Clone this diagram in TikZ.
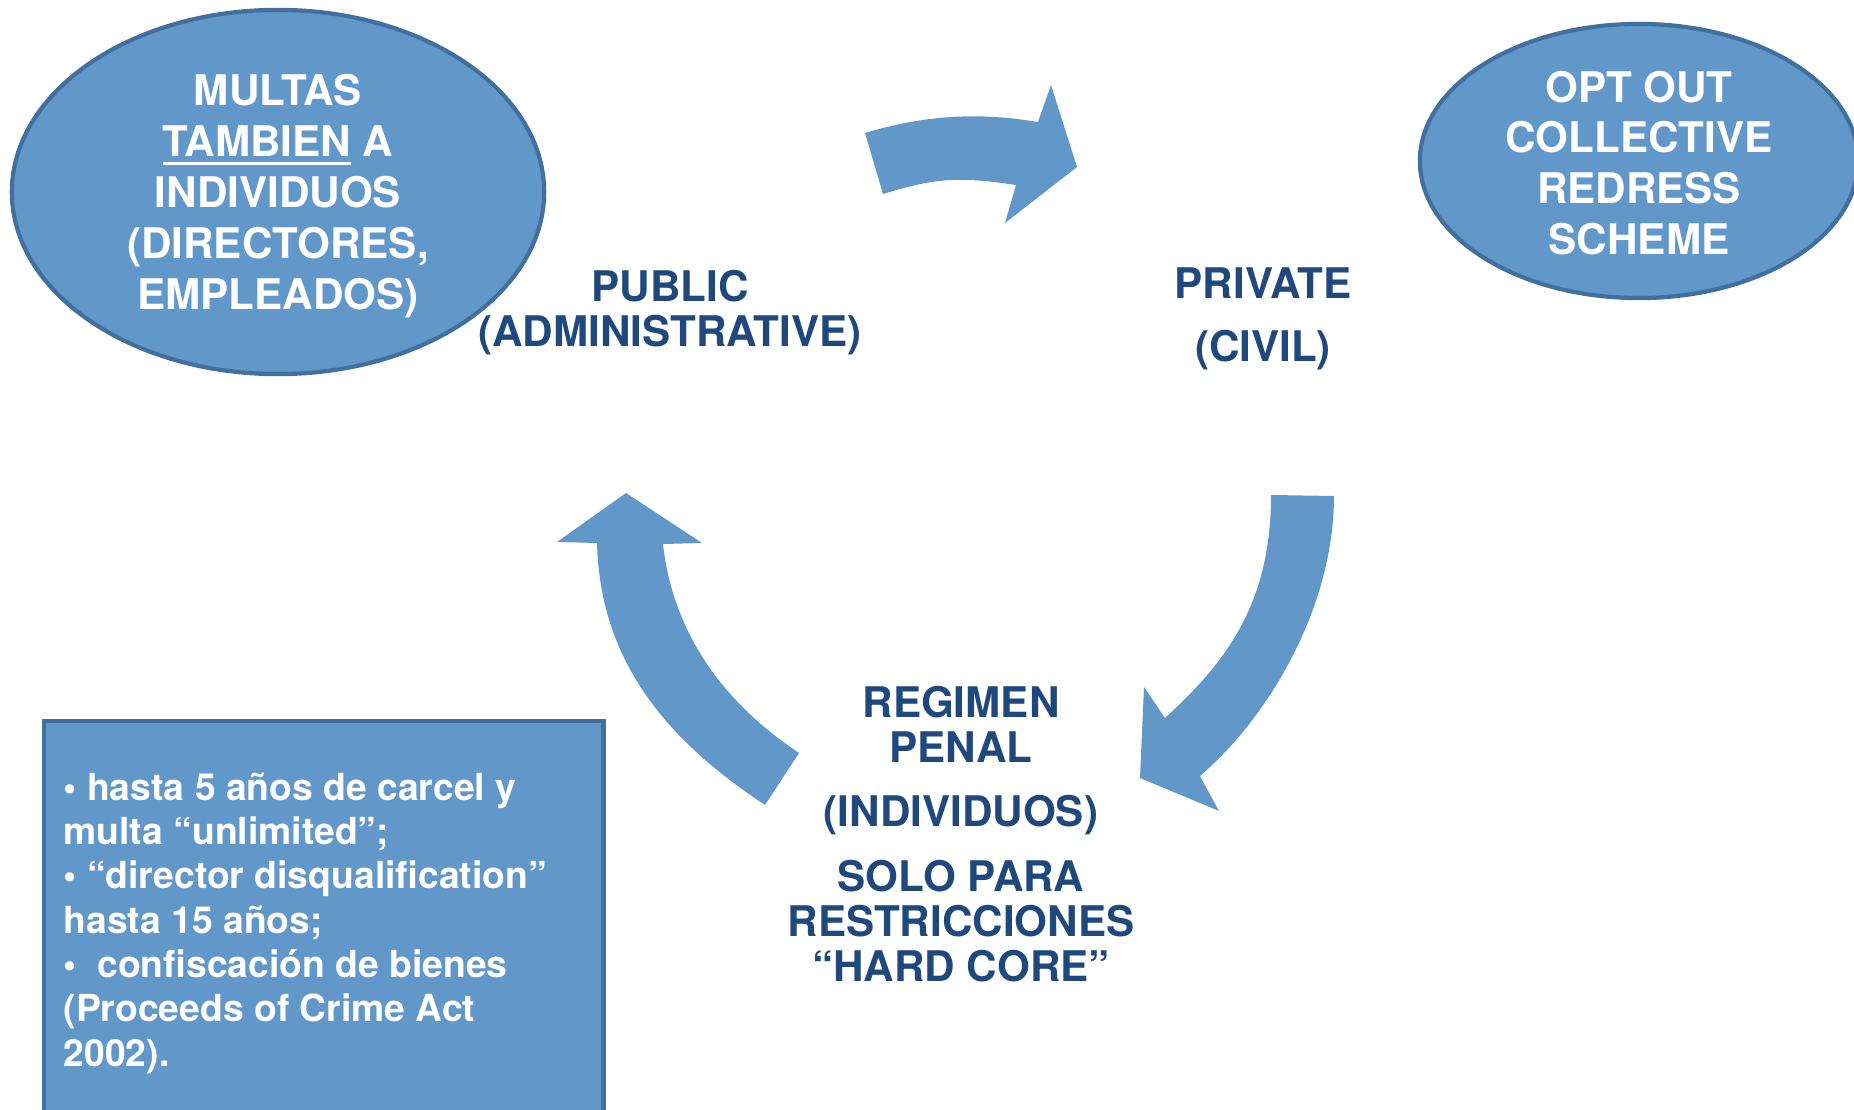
\documentclass[tikz,border=0pt]{standalone}
\usepackage{fontspec}
\setmainfont{TeX Gyre Heros}
\usepackage{xcolor}
\usetikzlibrary{arrows.meta, positioning, calc, shapes}

\definecolor{cycleblue}{HTML}{6297CA}
\definecolor{edgeblue}{HTML}{41709F}
\definecolor{labelblue}{HTML}{1F497D}

% 加粗下划线
\newcommand{\thickul}[1]{\setbox0\hbox{#1}\rlap{\rule[-2.4pt]{\wd0}{0.75pt}}\box0\relax}

\begin{document}
\begin{tikzpicture}[
    x=0.01cm, y=-0.01cm,
    % 基础样式定义
    every node/.style={font=\bfseries\fontsize{12}{12.8}\selectfont, align=center, inner sep=0pt},
    % 椭圆（白字）
    bubble/.style={ellipse, fill=cycleblue, draw=edgeblue, line width=1.2pt, text=white,
        font=\bfseries\fontsize{12}{14.5}\selectfont},
    % 循环中的三个阶段
    stage/.style={text=labelblue},
    % 左下方框
    notebox/.style={rectangle, fill=cycleblue, draw=edgeblue, line width=1.2pt},
    notetext/.style={text=white, align=left, font=\bfseries\fontsize{10.6}{12.6}\selectfont},
    % 弧形箭头
    cyclearrow/.style={fill=cycleblue}
]
\useasboundingbox (0,0) rectangle (1854,1110);

% 椭圆
\node[bubble, minimum width=5.32cm, minimum height=3.64cm] (fines) at (278,192)
    {\rule{0pt}{11pt}MULTAS\\\thickul{TAMBIEN} A\\INDIVIDUOS\\(DIRECTORES,\\EMPLEADOS)};
\node[bubble, minimum width=4.38cm, minimum height=2.74cm] (optout) at (1639,161)
    {\rule{0pt}{10.1pt}OPT OUT\\COLLECTIVE\\REDRESS\\SCHEME};

% 三个阶段
\node[stage] (public) at (670,313) {PUBLIC\\(ADMINISTRATIVE)};
\node[stage] (private) at (1263,319) {PRIVATE\\[5pt](CIVIL)};
\node[stage] (penal) at (961,834)
    {REGIMEN\\PENAL\\[5.5pt](INDIVIDUOS)\\[5.5pt]SOLO PARA\\RESTRICCIONES\\“HARD CORE”};

% 箭头
\fill[cyclearrow] (865,133) .. controls (925,115) and (978,112) .. (1038,122)
    -- (1051,85) -- (1077,167) -- (1005,223) -- (1016,185)
    .. controls (961,177) and (938,177) .. (883,194) -- cycle;
\fill[cyclearrow] (1271,495) -- (1334,496) .. controls (1334,606) and (1270,716) .. (1200,776)
    -- (1219,811) -- (1140,778) -- (1144,687) -- (1165,718)
    .. controls (1225,663) and (1271,605) .. (1271,495) -- cycle;
\fill[cyclearrow] (626,493) -- (702,543) -- (663,544)
    .. controls (673,634) and (724,703) .. (799,753) -- (765,805)
    .. controls (665,739) and (600,660) .. (597,543) -- (557,542) -- cycle;

% 方框
\node[notebox, anchor=north west, minimum width=5.59cm, minimum height=4.1cm] (penalbox) at (42,719) {};
\node[notetext, anchor=north west] (penaltext) at (63,772)
    {• hasta 5 años de carcel y\\multa “unlimited”;\\• “director disqualification”\\hasta 15 años;\\•\ \ confiscación de bienes\\(Proceeds of Crime Act\\2002).};

\end{tikzpicture}
\end{document}
